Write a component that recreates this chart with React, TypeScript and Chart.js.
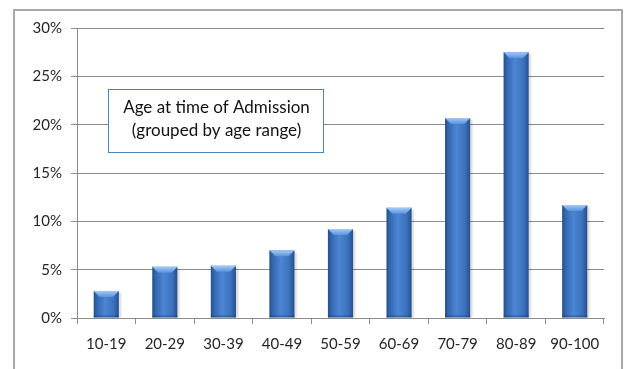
import { useEffect, useRef } from "react";
import { Chart, registerables } from "chart.js";

Chart.register(...registerables);

// Share of admissions by age band (percent)
const ageRanges = ["10-19", "20-29", "30-39", "40-49", "50-59", "60-69", "70-79", "80-89", "90-100"];
const admissionShare = [2.8, 5.3, 5.4, 7.0, 9.2, 11.4, 20.7, 27.5, 11.7];
const yTickStep = 5;
const yMax = 30;
const boxLines = ["Age at time of Admission", "(grouped by age range)"];

const FONT = "Lato, 'Open Sans', sans-serif";
const BAR_PCT = 0.43;

// Light grey frame around the whole chart
const framePlugin = {
  id: "frame",
  beforeDraw(chart: any) {
    const { ctx, width, height } = chart;
    ctx.save();
    ctx.fillStyle = "#ffffff";
    ctx.fillRect(0, 0, width, height);
    ctx.strokeStyle = "#a8a8a8";
    ctx.lineWidth = 2;
    ctx.beginPath();
    ctx.moveTo(14, height + 2);
    ctx.lineTo(14, 10);
    ctx.lineTo(width - 2, 10);
    ctx.lineTo(width - 2, height + 2);
    ctx.stroke();
    ctx.restore();
  },
};

// Soft drop shadow behind each column and a bevelled light cap on top
const bevelPlugin = {
  id: "bevel",
  beforeDatasetsDraw(chart: any) {
    const { ctx } = chart;
    const meta = chart.getDatasetMeta(0);
    ctx.save();
    meta.data.forEach((el: any) => {
      const { x, y, width, base } = el.getProps(["x", "y", "width", "base"], true);
      ctx.fillStyle = "rgba(0,0,0,0.12)";
      ctx.fillRect(x + width / 2, y + 2, 2, base - y - 2);
      ctx.fillStyle = "rgba(0,0,0,0.06)";
      ctx.fillRect(x + width / 2 + 2, y + 3, 1, base - y - 3);
    });
    ctx.restore();
  },
  afterDatasetsDraw(chart: any) {
    const { ctx } = chart;
    const meta = chart.getDatasetMeta(0);
    ctx.save();
    meta.data.forEach((el: any) => {
      const { x, y, width, base } = el.getProps(["x", "y", "width", "base"], true);
      const l = x - width / 2;
      const r = x + width / 2;
      const b = 6;
      const g = ctx.createLinearGradient(0, y, 0, y + b);
      g.addColorStop(0, "#a2cbf7");
      g.addColorStop(1, "#5b92dc");
      ctx.fillStyle = g;
      ctx.beginPath();
      ctx.moveTo(l, y);
      ctx.lineTo(r, y);
      ctx.lineTo(r - b, y + b);
      ctx.lineTo(l + b, y + b);
      ctx.closePath();
      ctx.fill();
      // darker base edge
      ctx.fillStyle = "rgba(20,50,100,0.35)";
      ctx.fillRect(l, base - 2, width, 2);
    });
    ctx.restore();
  },
};

// Caption box inside the plot area
const captionPlugin = {
  id: "caption",
  afterDraw(chart: any) {
    const { ctx, chartArea } = chart;
    const bx = chartArea.left + 31;
    const by = chartArea.top + 61;
    const bw = 215;
    const bh = 63;
    ctx.save();
    ctx.fillStyle = "#ffffff";
    ctx.fillRect(bx, by, bw, bh);
    ctx.strokeStyle = "#4f81bd";
    ctx.lineWidth = 1;
    ctx.strokeRect(bx + 0.5, by + 0.5, bw, bh);
    ctx.fillStyle = "#111111";
    ctx.font = `17px ${FONT}`;
    ctx.textAlign = "center";
    ctx.textBaseline = "middle";
    boxLines.forEach((line, i) => {
      ctx.fillText(line, bx + bw / 2 + 1, by + 19 + i * 23);
    });
    ctx.restore();
  },
};

export default function App() {
  const canvasRef = useRef<HTMLCanvasElement | null>(null);

  useEffect(() => {
    if (!canvasRef.current) return;
    const chart = new Chart(canvasRef.current, {
      type: "bar",
      data: {
        labels: ageRanges,
        datasets: [
          {
            data: admissionShare,
            barPercentage: BAR_PCT,
            categoryPercentage: 1,
            borderWidth: 0,
            backgroundColor: (c: any) => {
              const chart = c.chart;
              const xs = chart.scales?.x;
              if (!xs || c.dataIndex == null || !xs.width) return "#3d74c2";
              const cx = xs.getPixelForValue(c.dataIndex);
              const half = ((xs.width / ageRanges.length) * BAR_PCT) / 2;
              const g = chart.ctx.createLinearGradient(cx - half, 0, cx + half, 0);
              g.addColorStop(0, "#24508c");
              g.addColorStop(0.15, "#3569b3");
              g.addColorStop(0.45, "#4b86d4");
              g.addColorStop(0.8, "#3a71bd");
              g.addColorStop(1, "#254f8a");
              return g;
            },
          },
        ],
      },
      options: {
        animation: false,
        responsive: true,
        maintainAspectRatio: false,
        layout: { padding: { top: 28, right: 20, left: 0, bottom: 0 } },
        plugins: {
          legend: { display: false },
          tooltip: { enabled: false },
        },
        scales: {
          x: {
            offset: true,
            grid: {
              offset: true,
              drawOnChartArea: false,
              drawTicks: true,
              tickLength: 6,
              color: "#8c8c8c",
            },
            border: { color: "#8c8c8c" },
            ticks: {
              color: "#262626",
              font: { family: FONT, size: 15 },
              padding: 11,
              maxRotation: 0,
            },
            afterFit: (s: any) => {
              s.height = 51;
            },
          },
          y: {
            min: 0,
            max: yMax,
            ticks: {
              stepSize: yTickStep,
              color: "#262626",
              font: { family: FONT, size: 15 },
              padding: 9,
              callback: (v: any) => `${v}%`,
            },
            grid: {
              color: "#8c8c8c",
              tickLength: 6,
              drawTicks: true,
            },
            border: { color: "#8c8c8c" },
            afterFit: (s: any) => {
              s.width = 77;
            },
          },
        },
      },
      plugins: [framePlugin, bevelPlugin, captionPlugin],
    });
    return () => chart.destroy();
  }, []);

  return (
    <div style={{ position: "absolute", left: 0, top: 0, width: 624, height: 369 }}>
      <canvas ref={canvasRef} />
    </div>
  );
}
